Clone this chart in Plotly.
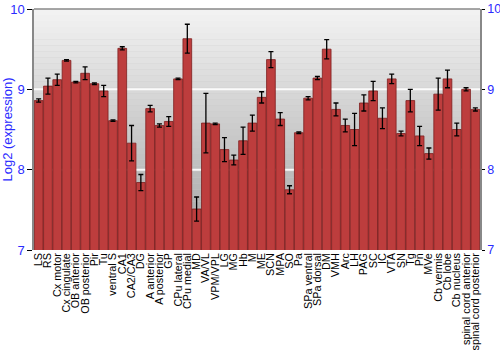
import plotly.graph_objects as go

categories = ["LS", "RS", "Cx motor", "Cx cingulate", "OB anterior", "OB posterior", "Pir", "Tu",
              "ventral S", "CA1", "CA2/CA3", "DG", "A anterior", "A posterior", "GP", "CPu lateral",
              "CPu medial", "MD", "VA/VL", "VPM/VPL", "LG", "MG", "Hb", "M", "ME", "SCN", "MPA", "SO",
              "Pa", "SPa ventral", "SPa dorsal", "DM", "VMH", "Arc", "LH", "PAG", "SC", "IC", "VTA",
              "SN", "Tg", "Pn", "MVe", "Cb vermis", "Cb lobe", "Cb nucleus",
              "spinal cord anterior", "spinal cord posterior"]
values = [8.86, 9.04, 9.12, 9.36, 9.09, 9.20, 9.07, 8.98,
          8.61, 9.51, 8.33, 7.84, 8.76, 8.55, 8.60, 9.13,
          9.63, 7.51, 8.58, 8.57, 8.25, 8.12, 8.36, 8.58, 8.90, 9.37, 8.63, 7.75,
          8.46, 8.89, 9.14, 9.50, 8.75, 8.55, 8.50, 8.83, 8.98, 8.64, 9.13,
          8.45, 8.86, 8.42, 8.20, 8.94, 9.13, 8.50,
          9.00, 8.75]
errors = [0.02, 0.10, 0.07, 0.01, 0.01, 0.08, 0.01, 0.07,
          0.01, 0.02, 0.22, 0.10, 0.04, 0.02, 0.06, 0.01,
          0.18, 0.15, 0.37, 0.01, 0.15, 0.06, 0.17, 0.10, 0.07, 0.10, 0.08, 0.05,
          0.01, 0.02, 0.02, 0.12, 0.08, 0.08, 0.20, 0.10, 0.12, 0.13, 0.06,
          0.03, 0.14, 0.12, 0.07, 0.20, 0.11, 0.08,
          0.02, 0.02]
y_ticks = [7, 8, 9, 10]

blue = "#2b2bff"
fig = go.Figure()

# gradient background bands
n = 40
for i in range(n):
    y0 = 7 + 3 * i / n
    y1 = 7 + 3 * (i + 1) / n
    t = i / (n - 1)
    g = int(0xa4 + (0xf2 - 0xa4) * t)
    fig.add_shape(type="rect", xref="paper", yref="y", x0=0, x1=1, y0=y0, y1=y1,
                  fillcolor=f"rgb({g},{g},{g})", line_width=0, layer="below")
for gy in [8, 9]:
    fig.add_shape(type="line", xref="paper", yref="y", x0=0, x1=1, y0=gy, y1=gy,
                  line=dict(color="rgba(255,255,255,0.9)", width=2), layer="below")

fig.add_trace(go.Bar(
    x=categories, y=values,
    base=0,
    marker=dict(color="#bd3d3d", line=dict(color="#7e1e1e", width=0.8)),
    error_y=dict(type="data", array=errors, color="black", thickness=1.3, width=2.5),
))
fig.add_trace(go.Scatter(x=[categories[0]], y=[7], yaxis="y2", mode="markers",
                         marker=dict(opacity=0), showlegend=False, hoverinfo="skip"))

fig.update_layout(
    width=500, height=350,
    margin=dict(l=34, r=20, t=9, b=100),
    paper_bgcolor="white",
    plot_bgcolor="#c8c8c8",
    showlegend=False,
    bargap=0.06,
    font=dict(family="Liberation Sans", size=11, color="black"),
    xaxis=dict(tickangle=-90, tickfont=dict(family="Liberation Sans", size=10.8, color="black"),
               showgrid=False, showline=False, ticks="", ticklen=0, automargin=False,
               tickmode="array", tickvals=categories, range=[-0.5, len(categories) - 0.5]),
    yaxis=dict(range=[7, 10], tickvals=y_ticks, ticks="outside", ticklen=5, tickcolor="black",
               tickfont=dict(size=13, color=blue), showgrid=False, automargin=False,
               showline=True, linecolor="#888888", linewidth=1.5, zeroline=False,
               title=dict(text="Log2 (expression)", font=dict(size=13, color=blue), standoff=2)),
    yaxis2=dict(range=[7, 10], tickvals=y_ticks, overlaying="y", side="right", ticks="outside",
                ticklen=3, tickcolor="black", tickfont=dict(size=12.5, color=blue), showgrid=False,
                automargin=False,
                showline=True, linecolor="#888888", linewidth=1.5, zeroline=False),
)
fig.add_shape(type="line", xref="paper", yref="paper", x0=0, x1=1, y0=1, y1=1,
              line=dict(color="#888888", width=1.5))

fig.write_html("out.html")
